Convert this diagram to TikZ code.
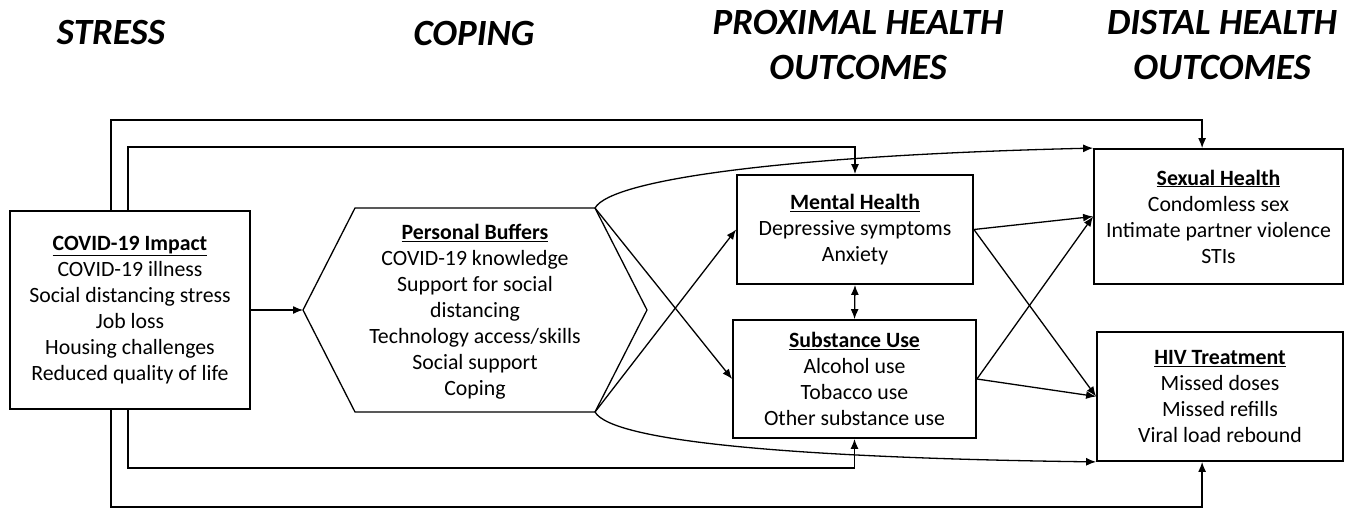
\documentclass[tikz,border=0pt]{standalone}
\usepackage{fontspec}
\setmainfont{Carlito}
\usetikzlibrary{arrows.meta,calc}
\begin{document}
\begin{tikzpicture}[x=1pt,y=-1pt,
  box/.style={draw,line width=1.8pt,align=center,inner sep=0pt,
    font=\fontsize{21.8}{26}\selectfont},
  txt/.style={align=center,inner sep=0pt,font=\fontsize{21.8}{26}\selectfont},
  ln/.style={line width=1.3pt},
  arr/.style={ln,-{Latex[length=10pt,width=8pt]}},
  darr/.style={ln,{Latex[length=10pt,width=8pt]}-{Latex[length=10pt,width=8pt]}},
  ttl/.style={align=center,inner sep=0pt,
    font=\fontsize{37}{45}\selectfont\bfseries\itshape}]
\useasboundingbox (0,0) rectangle (1346,508);

% titles
\node[ttl] (tstress) at (111,33) {STRESS};
\node[ttl] (tcoping) at (474,33) {COPING};
\node[ttl] (tprox) at (858,45.5) {PROXIMAL HEALTH\\OUTCOMES};
\node[ttl] (tdist) at (1222,45.5) {DISTAL HEALTH\\OUTCOMES};

% boxes
\node[box,minimum width=240pt,minimum height=198pt] (covid) at (130,310)
  {\underline{\textbf{COVID-19 Impact}}\\COVID-19 illness\\Social distancing stress\\Job loss\\Housing challenges\\Reduced quality of life};
\node[box,minimum width=236pt,minimum height=109pt] (mh) at (855,229.5)
  {\underline{\textbf{Mental Health}}\\Depressive symptoms\\Anxiety};
\node[box,minimum width=243pt,minimum height=118pt] (su) at (854.5,379)
  {\underline{\textbf{Substance Use}}\\Alcohol use\\Tobacco use\\Other substance use};
\node[box,minimum width=249pt,minimum height=135pt] (sh) at (1218.5,216.5)
  {\underline{\textbf{Sexual Health}}\\Condomless sex\\Intimate partner violence\\STIs};
\node[box,minimum width=246pt,minimum height=129pt] (hiv) at (1220,396.5)
  {\underline{\textbf{HIV Treatment}}\\Missed doses\\Missed refills\\Viral load rebound};

% hexagon (personal buffers)
\coordinate (hW) at (303,310);
\coordinate (hTL) at (355,208);
\coordinate (hTR) at (595,208);
\coordinate (hE) at (647,310);
\coordinate (hBR) at (595,412);
\coordinate (hBL) at (355,412);
\draw[line width=1.3pt] (hW) -- (hTL) -- (hTR) -- (hE) -- (hBR) -- (hBL) -- cycle;
\node[txt] (pb) at (475,312)
  {\underline{\textbf{Personal Buffers}}\\COVID-19 knowledge\\Support for social\\distancing\\Technology access/skills\\Social support\\Coping};

% connectors
\draw[arr] (covid.east) -- (hW);
\draw[arr] (hTR) -- (su.west);
\draw[arr] (hBR) -- (mh.west);
\draw[arr] (hTR) .. controls (612,178) and (800,155) .. (sh.north west);
\draw[arr] (hBR) .. controls (612,442) and (800,458) .. (hiv.south west);
\draw[darr] (mh.south) -- (su.north);
\draw[arr] (mh.east) -- (sh.west);
\draw[arr] (mh.east) -- (hiv.west);
\draw[arr] (su.east) -- (sh.west);
\draw[arr] (su.east) -- (hiv.west);

% loops
\draw[arr] ($(covid.north west)+(102,0)$) -- ++(0,-90) -| ($(sh.north west)+(109,0)$);
\draw[arr] ($(covid.north west)+(119,0)$) -- ++(0,-63) -| (mh.north);
\draw[arr] ($(covid.south west)+(102,0)$) -- ++(0,97) -| ($(hiv.south west)+(106,0)$);
\draw[arr] ($(covid.south west)+(119,0)$) -- ++(0,58) -| (su.south);
\end{tikzpicture}
\end{document}
